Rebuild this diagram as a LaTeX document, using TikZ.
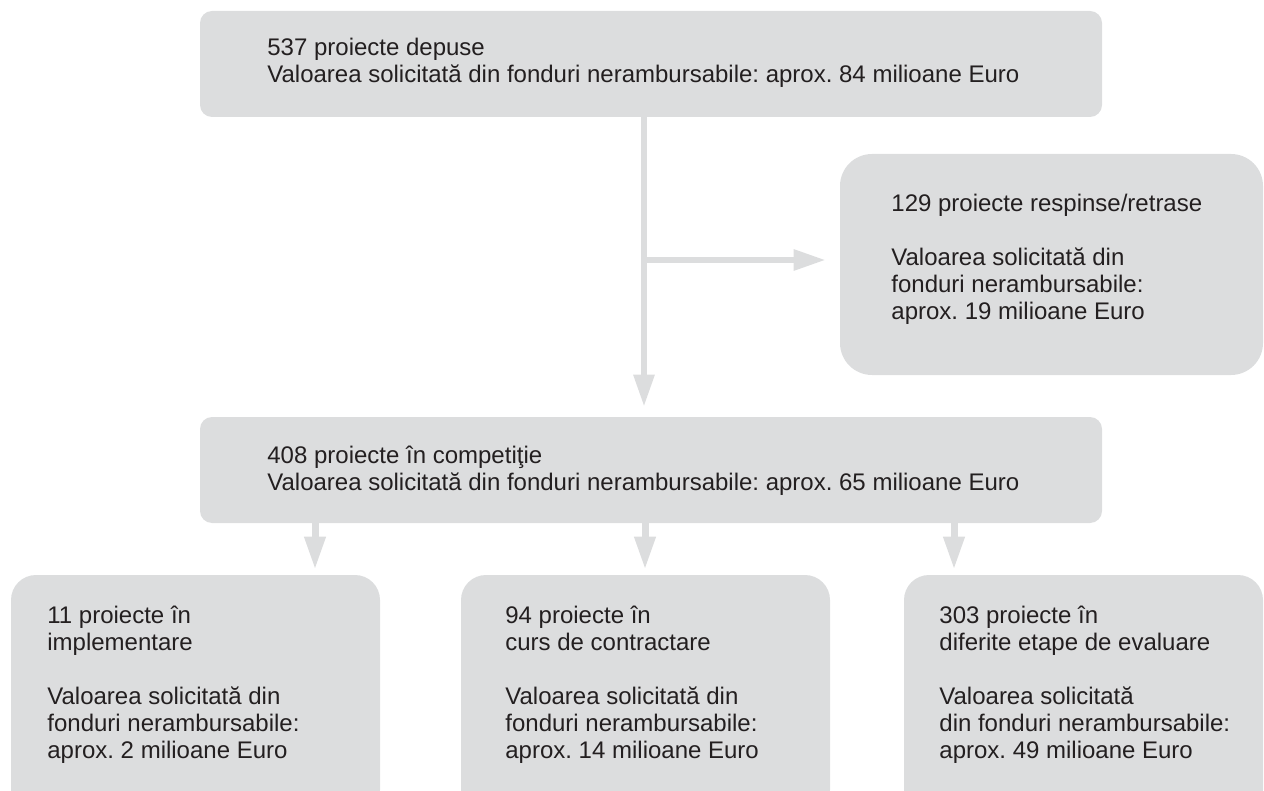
\documentclass[tikz,border=0pt]{standalone}
\usepackage{fontspec}
\setmainfont{Liberation Sans}
\frenchspacing
\usetikzlibrary{arrows.meta}
\definecolor{panelgray}{RGB}{220,221,222}
\definecolor{inkgray}{RGB}{35,31,32}

\begin{document}
\begin{tikzpicture}[x=0.5pt, y=-0.5pt,
  panel/.style={fill=panelgray, inner sep=0pt, rounded corners=#1},
  panel/.default=6pt,
  note/.style={inkgray, align=left, inner sep=0pt, anchor=base west,
    font=\fontsize{12pt}{13.5pt}\selectfont},
  flow/.style={panelgray, line width=3pt, -{Triangle[width=10pt,length=16pt]}},
  drop/.style={panelgray, line width=3.5pt, -{Triangle[width=10pt,length=16.5pt]}, shorten >=2.5pt}]
  \useasboundingbox (0,0) rectangle (1264,791);
  \clip (0,0) rectangle (1264,791);

  % boxes
  \node[panel, minimum width=451pt, minimum height=53pt] (depuse) at (651,64) {};
  \node[panel=16pt, minimum width=211.5pt, minimum height=110.5pt] (respinse) at (1051.5,264.5) {};
  \node[panel, minimum width=451pt, minimum height=53pt] (concurs) at (651,470) {};
  \node[panel=12.5pt, minimum width=184.5pt, minimum height=120pt] (impl) at (195.5,695) {};
  \node[panel=12.5pt, minimum width=184.5pt, minimum height=120pt] (contr) at (645.5,695) {};
  \node[panel=12.5pt, minimum width=179.5pt, minimum height=120pt] (eval) at (1083.5,695) {};

  % texts (placed at the baseline of their last line)
  \node[note] (tdepuse) at (267,83) {537 proiecte depuse\\
    Valoarea solicitată din fonduri nerambursabile: aprox. 84 milioane Euro};
  \node[note] (trespinse) at (891,320) {129 proiecte respinse/retrase\\[13.5pt]
    Valoarea solicitată din\\fonduri nerambursabile:\\aprox. 19 milioane Euro};
  \node[note] (tconcurs) at (267,490) {408 proiecte în competiţie\\
    Valoarea solicitată din fonduri nerambursabile: aprox. 65 milioane Euro};
  \node[note] (timpl) at (47,758) {11 proiecte în\\implementare\\[13.5pt]
    Valoarea solicitată din\\fonduri nerambursabile:\\aprox. 2 milioane Euro};
  \node[note] (tcontr) at (505,758) {94 proiecte în\\curs de contractare\\[13.5pt]
    Valoarea solicitată din\\fonduri nerambursabile:\\aprox. 14 milioane Euro};
  \node[note] (teval) at (939,758) {303 proiecte în\\diferite etape de evaluare\\[13.5pt]
    Valoarea solicitată\\din fonduri nerambursabile:\\aprox. 49 milioane Euro};

  % arrows
  \coordinate (fork) at (644,260);
  \draw[flow, shorten >=5pt] (depuse.south -| fork) -- (concurs.north -| fork);
  \draw[flow, shorten >=7pt] (fork) -- (fork -| respinse.west);
  \foreach \bx/\ax in {impl/315, contr/645, eval/954} {
    \coordinate (d\bx) at (\ax,0);
    \draw[drop] (concurs.south -| d\bx) -- (\bx.north -| d\bx);
  }
\end{tikzpicture}
\end{document}
